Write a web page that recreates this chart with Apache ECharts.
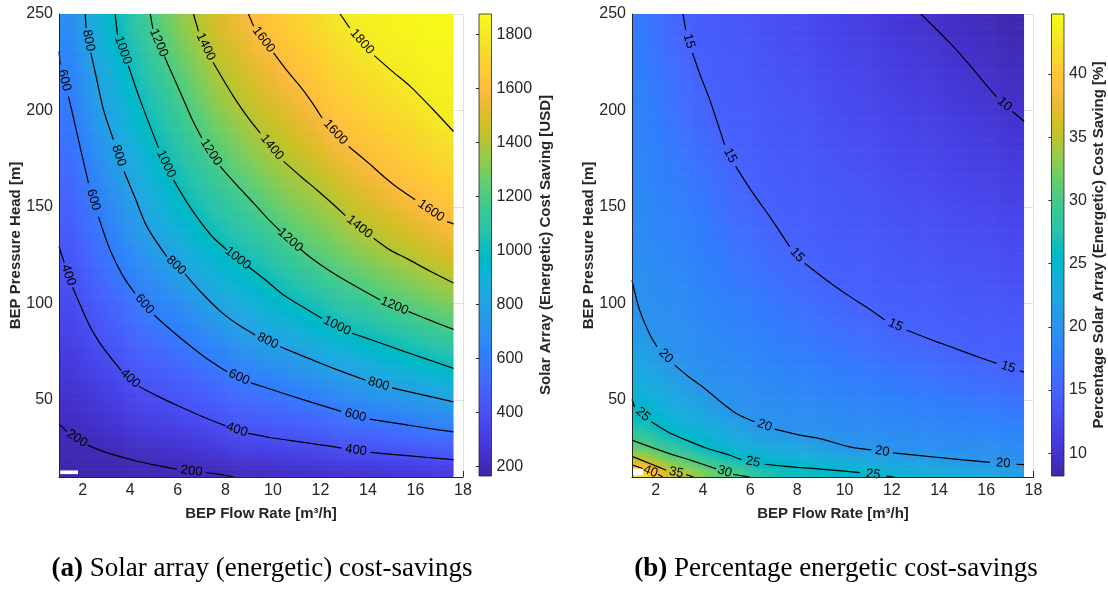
<!DOCTYPE html>
<html>
<head>
<meta charset="utf-8">
<title>Solar array cost savings</title>
<script src="https://cdn.jsdelivr.net/npm/echarts@6.0.0/dist/echarts.min.js"></script>
<style>
  html, body { margin: 0; padding: 0; background: #ffffff; }
  #chart { width: 1108px; height: 590px; }
</style>
</head>
<body>
<div id="chart"></div>
<script>
// ---- gridded results: flow-rate bins (m3/h) and pressure-head bins (m) ----
const flowEdges = [1, 2, 3, 4, 5, 6, 7, 8, 9, 10, 11, 12, 13, 14, 15, 16, 17, 17.6];
const headEdges = [10, 15, 20, 30, 40, 50, 60, 70, 80, 90, 100, 110, 120, 130, 140, 150,
                   160, 170, 180, 190, 200, 210, 220, 230, 240, 250];

// axis limits and tick labels
const flowLimits = [1, 18];
const headLimits = [10, 250];
const flowTicks = [2, 4, 6, 8, 10, 12, 14, 16, 18];
const headTicks = [50, 100, 150, 200, 250];
const savingTicks = [200, 400, 600, 800, 1000, 1200, 1400, 1600, 1800];
const percentTicks = [10, 15, 20, 25, 30, 35, 40];

// colour scale limits
const savingRange = [165.6, 1875];
const percentRange = [8.2, 44.75];

// Solar array (energetic) cost saving [USD]; one column per flow bin, head bins bottom -> top
const costSaving = [
  [175, 181, 191, 208, 233, 258, 284, 309, 334, 359, 385, 409, 430, 452, 474, 496, 517, 539, 561, 583, 604, 625, 645, 666, 687],
  [182, 189, 200, 233, 267, 301, 335, 369, 403, 433, 464, 494, 524, 555, 585, 615, 644, 673, 702, 731, 760, 789, 817, 843, 869],
  [187, 194, 217, 260, 303, 346, 389, 429, 468, 507, 545, 584, 621, 656, 691, 726, 761, 796, 826, 855, 884, 913, 942, 971, 1000],
  [192, 200, 237, 288, 339, 390, 437, 484, 530, 577, 622, 665, 709, 752, 796, 832, 867, 903, 938, 973, 1008, 1040, 1072, 1104, 1137],
  [196, 212, 255, 313, 371, 426, 478, 529, 581, 635, 690, 745, 800, 843, 885, 928, 970, 1011, 1047, 1084, 1120, 1156, 1193, 1225, 1257],
  [199, 226, 275, 341, 406, 464, 522, 581, 639, 696, 754, 811, 867, 922, 978, 1024, 1065, 1105, 1145, 1186, 1223, 1257, 1292, 1327, 1362],
  [207, 243, 298, 371, 439, 503, 568, 635, 705, 775, 837, 893, 949, 1005, 1053, 1101, 1149, 1198, 1239, 1280, 1320, 1361, 1401, 1435, 1469],
  [221, 262, 324, 406, 478, 550, 622, 695, 767, 833, 892, 951, 1009, 1062, 1115, 1168, 1218, 1264, 1310, 1356, 1402, 1437, 1472, 1507, 1544],
  [231, 275, 340, 425, 503, 581, 662, 744, 819, 881, 944, 1006, 1065, 1125, 1184, 1237, 1287, 1338, 1388, 1430, 1470, 1509, 1549, 1588, 1618],
  [239, 286, 357, 445, 528, 612, 697, 781, 858, 933, 1006, 1071, 1135, 1200, 1251, 1303, 1354, 1405, 1446, 1488, 1529, 1571, 1609, 1637, 1666],
  [249, 299, 374, 466, 555, 647, 740, 828, 907, 987, 1061, 1136, 1206, 1256, 1306, 1355, 1405, 1452, 1500, 1548, 1595, 1626, 1656, 1685, 1715],
  [258, 311, 390, 493, 590, 690, 785, 876, 964, 1044, 1119, 1193, 1249, 1304, 1358, 1413, 1468, 1522, 1577, 1617, 1647, 1677, 1707, 1737, 1767],
  [267, 325, 412, 525, 633, 731, 827, 918, 1008, 1089, 1169, 1240, 1305, 1371, 1428, 1479, 1530, 1582, 1621, 1654, 1688, 1721, 1754, 1787, 1815],
  [277, 338, 428, 547, 660, 768, 865, 958, 1048, 1137, 1220, 1288, 1356, 1419, 1475, 1530, 1586, 1625, 1660, 1694, 1728, 1762, 1797, 1815, 1828],
  [286, 351, 445, 568, 684, 798, 898, 998, 1092, 1185, 1259, 1330, 1401, 1462, 1522, 1584, 1625, 1660, 1694, 1729, 1764, 1798, 1812, 1830, 1845],
  [295, 363, 462, 592, 711, 827, 935, 1038, 1133, 1223, 1299, 1376, 1444, 1508, 1572, 1621, 1658, 1695, 1733, 1770, 1806, 1822, 1836, 1850, 1862],
  [303, 374, 478, 613, 740, 860, 972, 1073, 1171, 1257, 1339, 1417, 1483, 1549, 1609, 1649, 1689, 1729, 1769, 1803, 1816, 1829, 1842, 1855, 1868]
];

// Percentage solar array (energetic) cost saving [%]; same layout
const percentSaving = [
  [42.2, 36.1, 31.0, 27.2, 24.7, 23.6, 22.6, 21.5, 20.5, 19.9, 19.7, 19.6, 19.4, 19.2, 19.0, 18.9, 18.7, 18.5, 18.3, 18.2, 18.0, 17.8, 17.7, 17.5, 17.3],
  [35.8, 32.7, 28.9, 24.8, 23.5, 22.3, 21.0, 19.95, 19.7, 19.5, 19.2, 19.0, 18.8, 18.5, 18.3, 18.0, 17.8, 17.6, 17.3, 17.1, 16.8, 16.6, 16.4, 16.1, 15.9],
  [33.7, 30.7, 26.7, 24.0, 22.5, 21.0, 19.9, 19.6, 19.3, 19.0, 18.7, 18.4, 18.1, 17.9, 17.6, 17.3, 17.0, 16.7, 16.4, 16.1, 15.8, 15.5, 15.2, 14.9, 14.7],
  [31.3, 28.5, 24.8, 23.0, 21.2, 19.9, 19.5, 19.2, 18.9, 18.5, 18.2, 17.8, 17.5, 17.2, 16.8, 16.5, 16.2, 15.8, 15.5, 15.1, 14.9, 14.8, 14.7, 14.5, 14.4],
  [29.5, 26.6, 23.9, 21.7, 19.9, 19.5, 19.1, 18.7, 18.3, 17.9, 17.5, 17.1, 16.7, 16.3, 15.9, 15.6, 15.2, 14.9, 14.8, 14.6, 14.5, 14.3, 14.2, 14.0, 13.9],
  [27.3, 24.85, 23.0, 20.5, 19.65, 19.2, 18.8, 18.3, 17.9, 17.5, 17.0, 16.6, 16.2, 15.7, 15.3, 14.94, 14.8, 14.6, 14.4, 14.3, 14.1, 13.9, 13.7, 13.6, 13.4],
  [26.3, 24.5, 22.4, 19.9, 19.4, 18.9, 18.4, 17.9, 17.4, 17.0, 16.5, 16.0, 15.5, 15.0, 14.8, 14.6, 14.4, 14.2, 14.0, 13.9, 13.7, 13.5, 13.3, 13.1, 12.9],
  [25.8, 24.1, 21.8, 19.8, 19.2, 18.6, 18.1, 17.5, 16.9, 16.4, 15.8, 15.2, 14.9, 14.7, 14.5, 14.3, 14.1, 13.9, 13.7, 13.5, 13.3, 13.1, 12.9, 12.7, 12.5],
  [25.4, 23.6, 21.0, 19.6, 19.0, 18.4, 17.7, 17.1, 16.5, 15.9, 15.3, 14.9, 14.7, 14.4, 14.2, 14.0, 13.8, 13.6, 13.3, 13.1, 12.9, 12.7, 12.4, 12.2, 12.0],
  [25.1, 23.1, 20.0, 19.35, 18.7, 18.0, 17.4, 16.7, 16.1, 15.4, 14.9, 14.7, 14.4, 14.2, 13.9, 13.7, 13.5, 13.2, 13.0, 12.7, 12.5, 12.2, 12.0, 11.7, 11.5],
  [24.4, 22.4, 19.9, 19.2, 18.5, 17.75, 17.05, 16.3, 15.6, 14.97, 14.7, 14.4, 14.2, 13.9, 13.6, 13.4, 13.1, 12.8, 12.6, 12.3, 12.1, 11.8, 11.5, 11.3, 11.0],
  [24.0, 21.9, 19.8, 19.0, 18.2, 17.45, 16.7, 15.9, 15.1, 14.8, 14.5, 14.2, 13.9, 13.6, 13.3, 13.1, 12.8, 12.5, 12.2, 11.9, 11.6, 11.3, 11.1, 10.8, 10.5],
  [23.5, 21.5, 19.65, 18.8, 18.0, 17.2, 16.4, 15.6, 14.9, 14.6, 14.3, 14.0, 13.7, 13.4, 13.1, 12.8, 12.5, 12.2, 11.9, 11.6, 11.3, 11.0, 10.7, 10.4, 10.1],
  [23.0, 21.0, 19.5, 18.7, 17.8, 16.9, 16.1, 15.2, 14.76, 14.4, 14.1, 13.8, 13.5, 13.2, 12.9, 12.5, 12.2, 11.9, 11.6, 11.3, 10.9, 10.6, 10.3, 10.0, 9.65],
  [22.4, 20.5, 19.4, 18.5, 17.6, 16.6, 15.7, 14.9, 14.6, 14.25, 13.9, 13.6, 13.3, 12.9, 12.6, 12.2, 11.9, 11.5, 11.2, 10.9, 10.5, 10.2, 9.9, 9.6, 9.25],
  [21.9, 20.1, 19.3, 18.3, 17.3, 16.3, 15.35, 14.77, 14.4, 14.05, 13.7, 13.3, 12.95, 12.6, 12.2, 11.85, 11.5, 11.1, 10.8, 10.4, 10.05, 9.75, 9.45, 9.15, 8.85],
  [21.6, 19.7, 19.1, 18.1, 17.1, 16.1, 15.05, 14.64, 14.3, 13.9, 13.5, 13.1, 12.75, 12.4, 12.0, 11.6, 11.2, 10.85, 10.5, 10.1, 9.8, 9.5, 9.15, 8.85, 8.5]
];

// small areas without results near the lowest flow / head corner: [q0, q1, h0, h1]
const noDataSaving = [[1.05, 1.8, 11.5, 13.4]];
const noDataPercent = [[1, 1.46, 10.9, 14.3]];

// iso-lines: each level is split into pieces; a label sits in every gap between pieces
const savingContours = [
  { level: 200, segments: [
    [[1, 37.7], [1.32, 33.5]],
    [[2.2, 26.5], [3, 22.6], [4.13, 18.7], [5, 16.3], [5.96, 14.0]],
    [[7.19, 12.2], [7.8, 11.2], [8.35, 10]]
  ]},
  { level: 400, segments: [
    [[1, 129.5], [1.22, 121.1]],
    [[1.57, 108.3], [1.9, 99], [2.31, 87.9], [2.7, 79.8], [3.15, 72.3], [3.62, 65.2]],
    [[4.37, 56.9], [5.1, 52.2], [5.96, 47.2], [7, 41.5], [8.01, 36.5]],
    [[8.96, 32.6], [10, 30.2], [11.15, 28.2], [12, 26.7], [12.9, 25]],
    [[14.1, 22.8], [15.5, 21.2], [16.5, 20.1], [17.6, 19]]
  ]},
  { level: 600, segments: [
    [[1, 230.6], [1.05, 223.8]],
    [[1.4, 207.3], [1.82, 184.8], [2.24, 162.3]],
    [[2.66, 145], [3.15, 127.7], [3.7, 114], [4.2, 105.2]],
    [[5.0, 94], [5.7, 86.3], [6.38, 79.3], [7.2, 71.5], [8.07, 64.5]],
    [[9.08, 58.8], [10.2, 54.3], [11.3, 50.0], [12.87, 44.0]],
    [[14.07, 40.0], [15.5, 37.3], [16.5, 35.3], [17.6, 33.4]]
  ]},
  { level: 800, segments: [
    [[2.1, 250], [2.14, 242.8]],
    [[2.34, 229.8], [2.6, 215.4], [2.87, 200.4], [3.29, 184.8]],
    [[3.74, 168.4], [4.2, 154.7], [4.7, 139.8], [5.54, 124.2]],
    [[6.31, 115.2], [7.0, 105.5], [7.78, 96], [8.5, 89.3], [9.26, 83.6]],
    [[10.31, 77.5], [11.5, 71.5], [12.55, 66.3], [13.89, 60.2]],
    [[15.01, 56.2], [16.3, 52.6], [17.6, 48.9]]
  ]},
  { level: 1000, segments: [
    [[3.36, 250], [3.46, 239.3]],
    [[3.92, 223.2], [4.41, 205.6], [5.19, 180.5]],
    [[5.82, 164], [6.4, 152], [7.0, 141.5], [7.5, 134], [8.07, 127.7]],
    [[8.97, 119], [9.7, 112], [10.45, 104.3], [11.2, 98.6], [12.07, 92.2]],
    [[13.33, 84.5], [14.4, 80], [15.36, 75.8], [16.5, 71], [17.6, 66.3]]
  ]},
  { level: 1200, segments: [
    [[4.84, 250], [4.95, 242.3]],
    [[5.44, 227.8], [5.85, 216.5], [6.24, 205.6], [6.6, 195.5], [7.01, 185.7]],
    [[7.78, 171], [8.5, 161], [9.19, 152], [9.7, 145], [10.32, 137.4]],
    [[11.14, 128.3], [11.6, 123.6], [12.3, 117.6], [13.26, 110.4], [14.52, 101.7]],
    [[15.71, 95.7], [16.6, 91.3], [17.6, 86.5]]
  ]},
  { level: 1400, segments: [
    [[6.66, 250], [6.87, 241]],
    [[7.48, 225], [8.34, 207.3], [9.0, 195.5], [9.47, 188.3]],
    [[10.45, 173.6], [11.2, 165.5], [11.85, 158.8], [12.5, 151.8], [13.05, 145.5]],
    [[14.24, 133.8], [14.94, 127.6], [15.64, 123.2], [16.6, 116.8], [17.6, 110.6]]
  ]},
  { level: 1600, segments: [
    [[8.97, 250], [9.19, 243.6]],
    [[10.03, 229.8], [10.6, 220.5], [11.15, 212.5], [11.6, 205], [12.07, 196.1]],
    [[13.19, 181.3], [14.0, 173], [14.66, 165.8], [15.3, 159.5], [15.99, 153.7]],
    [[17.33, 142.4], [17.6, 141.2]]
  ]},
  { level: 1800, segments: [
    [[12.83, 250], [13.23, 242.8]],
    [[14.27, 228.4], [15.0, 220.5], [15.78, 212.5], [16.7, 201], [17.6, 189.1]]
  ]}
];

const percentContours = [
  { level: 10, segments: [
    [[13.23, 250], [14.46, 235], [15.3, 223.5], [15.87, 215.1], [16.44, 207]],
    [[17.11, 199.5], [17.6, 194.4]]
  ]},
  { level: 15, segments: [
    [[3.16, 250], [3.27, 241.9]],
    [[3.56, 229.8], [3.9, 218], [4.29, 205.6], [4.92, 182.2]],
    [[5.39, 171], [6.1, 157.5], [6.83, 145], [7.68, 129.4]],
    [[8.31, 120.8], [9.3, 111.5], [10.23, 103.5], [11.0, 97.5], [11.7, 91.4]],
    [[12.62, 86.2], [13.6, 81.5], [14.6, 77], [15.6, 72.5], [16.44, 68.9]],
    [[17.42, 65], [17.6, 64.4]]
  ]},
  { level: 20, segments: [
    [[1, 112.1], [1.32, 96.6], [1.75, 84], [2.06, 77.5]],
    [[2.81, 68], [3.4, 62], [4, 56.7], [4.7, 49.5], [5.42, 42.9], [6.19, 38.6]],
    [[7.04, 34.8], [8, 32], [8.95, 29.9], [10.22, 25.6], [11.14, 24.1]],
    [[12.05, 22.5], [13, 21.3], [14, 20.1], [15, 18.9], [16.15, 17.6]],
    [[17.28, 16.6], [17.6, 16.4]]
  ]},
  { level: 25, segments: [
    [[1, 50.2], [1.11, 46.3]],
    [[1.82, 38.6], [2.5, 33.5], [3.3, 29.1], [4.2, 24.8], [5.14, 21.3], [5.63, 19.0]],
    [[6.62, 16.6], [8, 15], [9.5, 13.6], [10.64, 12.3]],
    [[11.78, 10.5], [12.1, 10]]
  ]},
  { level: 30, segments: [
    [[1, 29.1], [1.8, 25.5], [2.59, 22.1], [3.5, 18.6], [4.57, 14.2]],
    [[5.28, 11.4], [5.98, 10]]
  ]},
  { level: 35, segments: [
    [[1, 20.7], [1.75, 17], [2.45, 13.5]],
    [[3.3, 11.2], [3.6, 10]]
  ]},
  { level: 40, segments: [
    [[1, 16.3], [1.46, 14.4]],
    [[2.1, 11.4], [2.3, 10]]
  ]}
];

// ---- styling ----
const FONT = '"Liberation Sans", Arial, Helvetica, sans-serif';
const SERIF = '"Liberation Serif", "Times New Roman", Times, serif';
const INK = '#262626';
const GRIDLINE = '#dfdfdf';

// parula colour map (64 steps)
const PARULA_RGB = [
  [0.2422,0.1504,0.6603],[0.2504,0.1650,0.7076],[0.2578,0.1818,0.7511],[0.2647,0.1978,0.7952],
  [0.2706,0.2147,0.8364],[0.2751,0.2342,0.8710],[0.2783,0.2559,0.8991],[0.2803,0.2782,0.9221],
  [0.2813,0.3006,0.9414],[0.2810,0.3228,0.9579],[0.2795,0.3447,0.9717],[0.2760,0.3667,0.9829],
  [0.2699,0.3892,0.9906],[0.2602,0.4123,0.9952],[0.2440,0.4358,0.9988],[0.2206,0.4603,0.9973],
  [0.1963,0.4847,0.9892],[0.1834,0.5074,0.9798],[0.1786,0.5289,0.9682],[0.1764,0.5499,0.9520],
  [0.1687,0.5703,0.9359],[0.1540,0.5902,0.9218],[0.1460,0.6091,0.9079],[0.1380,0.6276,0.8973],
  [0.1248,0.6459,0.8883],[0.1113,0.6635,0.8763],[0.0952,0.6798,0.8598],[0.0689,0.6948,0.8394],
  [0.0297,0.7082,0.8163],[0.0036,0.7203,0.7917],[0.0067,0.7312,0.7660],[0.0433,0.7411,0.7394],
  [0.0964,0.7500,0.7120],[0.1408,0.7584,0.6842],[0.1717,0.7670,0.6554],[0.1938,0.7758,0.6251],
  [0.2161,0.7843,0.5923],[0.2470,0.7918,0.5567],[0.2906,0.7973,0.5188],[0.3406,0.8008,0.4789],
  [0.3909,0.8029,0.4354],[0.4456,0.8024,0.3909],[0.5044,0.7993,0.3480],[0.5616,0.7942,0.3045],
  [0.6174,0.7876,0.2612],[0.6720,0.7793,0.2227],[0.7242,0.7698,0.1910],[0.7738,0.7598,0.1646],
  [0.8203,0.7498,0.1535],[0.8634,0.7406,0.1596],[0.9035,0.7330,0.1774],[0.9393,0.7288,0.2100],
  [0.9728,0.7298,0.2394],[0.9956,0.7434,0.2371],[0.9970,0.7659,0.2199],[0.9952,0.7893,0.2028],
  [0.9892,0.8136,0.1885],[0.9786,0.8386,0.1766],[0.9676,0.8639,0.1643],[0.9610,0.8890,0.1537],
  [0.9597,0.9135,0.1423],[0.9628,0.9373,0.1265],[0.9691,0.9606,0.1064],[0.9769,0.9839,0.0805]
];
const PARULA = PARULA_RGB.map(c => 'rgb(' + c.map(v => Math.round(v * 255)).join(',') + ')');

function parulaColor(v, range) {
  let t = (v - range[0]) / (range[1] - range[0]);
  t = Math.min(1, Math.max(0, t));
  const n = PARULA_RGB.length;
  const p = t * (n - 1);
  const k = Math.min(n - 2, Math.floor(p));
  const f = p - k;
  const a = PARULA_RGB[k], b = PARULA_RGB[k + 1];
  return 'rgb(' + [0, 1, 2].map(m => Math.round(255 * (a[m] + (b[m] - a[m]) * f))).join(',') + ')';
}

// ---- builders ----
const flowMid = flowEdges.slice(0, -1).map((e, i) => (e + flowEdges[i + 1]) / 2);
const headMid = headEdges.slice(0, -1).map((e, j) => (e + headEdges[j + 1]) / 2);

function cellData(columns) {
  const out = [];
  columns.forEach((col, i) => col.forEach((v, j) => out.push([flowMid[i], headMid[j], v, i, j])));
  return out;
}

function locate(arr, v) {
  if (v <= arr[0]) return [0, 0];
  if (v >= arr[arr.length - 1]) return [arr.length - 2, 1];
  let k = 0;
  while (arr[k + 1] < v) k++;
  return [k, (v - arr[k]) / (arr[k + 1] - arr[k])];
}

// interpolated shading between the bin values (like shading interp)
function makeCellRenderer(columns, range) {
  function shade(x, y) {
    const [i, tx] = locate(flowMid, x);
    const [j, ty] = locate(headMid, y);
    const lo = columns[i][j] * (1 - tx) + columns[i + 1][j] * tx;
    const hi = columns[i][j + 1] * (1 - tx) + columns[i + 1][j + 1] * tx;
    return lo * (1 - ty) + hi * ty;
  }
  return function (params, api) {
    const i = api.value(3), j = api.value(4);
    const x0 = flowEdges[i], x1 = flowEdges[i + 1], y0 = headEdges[j], y1 = headEdges[j + 1];
    const tl = api.coord([x0, y1]);
    const br = api.coord([x1, y0]);
    const w = br[0] - tl[0], h = br[1] - tl[1];
    const nx = Math.max(1, Math.ceil(w / 3)), ny = Math.max(1, Math.ceil(h / 3));
    const lastCol = i === flowEdges.length - 2, topRow = j === headEdges.length - 2;
    const children = [];
    for (let a = 0; a < nx; a++) {
      for (let b = 0; b < ny; b++) {
        const x = x0 + (x1 - x0) * (a + 0.5) / nx;
        const y = y1 - (y1 - y0) * (b + 0.5) / ny;
        // slight overlap hides seams; not past the outer edge of the field
        const growX = (lastCol && a === nx - 1) ? 0 : 0.6;
        const growY = (b === 0 && topRow) ? 0 : 0.6;
        children.push({
          type: 'rect',
          shape: { x: tl[0] + w * a / nx, y: tl[1] + h * b / ny - growY,
                   width: w / nx + growX, height: h / ny + growY },
          style: { fill: parulaColor(shade(x, y), range) }
        });
      }
    }
    return { type: 'group', children };
  };
}

function heatSeries(columns, range, axisIndex) {
  return {
    type: 'custom', xAxisIndex: axisIndex, yAxisIndex: axisIndex, z: 1, silent: true,
    encode: { x: 0, y: 1 }, data: cellData(columns), renderItem: makeCellRenderer(columns, range)
  };
}

function noDataSeries(areas, axisIndex) {
  return {
    type: 'custom', xAxisIndex: axisIndex, yAxisIndex: axisIndex, z: 2, silent: true,
    encode: { x: 0, y: 2 }, data: areas,
    renderItem: function (params, api) {
      const tl = api.coord([api.value(0), api.value(3)]);
      const br = api.coord([api.value(1), api.value(2)]);
      return { type: 'rect', shape: { x: tl[0], y: tl[1], width: br[0] - tl[0], height: br[1] - tl[1] },
               style: { fill: '#ffffff' } };
    }
  };
}

function lineSeries(contours, axisIndex) {
  const list = [];
  contours.forEach(c => c.segments.forEach(seg => list.push({
    type: 'line', xAxisIndex: axisIndex, yAxisIndex: axisIndex, data: seg,
    symbol: 'none', showSymbol: false, smooth: 0.3, z: 3, silent: true,
    lineStyle: { color: '#000000', width: 1.2 }
  })));
  return list;
}

function labelSeries(contours, axisIndex) {
  const data = [];
  contours.forEach(c => {
    for (let k = 0; k < c.segments.length - 1; k++) {
      const a = c.segments[k][c.segments[k].length - 1];
      const b = c.segments[k + 1][0];
      data.push([(a[0] + b[0]) / 2, (a[1] + b[1]) / 2, c.level, a[0], a[1], b[0], b[1]]);
    }
  });
  return {
    type: 'custom', xAxisIndex: axisIndex, yAxisIndex: axisIndex, z: 4, silent: true, clip: false,
    encode: { x: 0, y: 1 }, data: data,
    renderItem: function (params, api) {
      const p = api.coord([api.value(0), api.value(1)]);
      const a = api.coord([api.value(3), api.value(4)]);
      const b = api.coord([api.value(5), api.value(6)]);
      let ang = Math.atan2(b[1] - a[1], b[0] - a[0]);
      if (ang > Math.PI / 2) ang -= Math.PI;
      if (ang < -Math.PI / 2) ang += Math.PI;
      return {
        type: 'text', x: p[0], y: p[1], rotation: -ang,
        style: { text: String(api.value(2)), fill: '#000000', font: '13px ' + FONT,
                 align: 'center', verticalAlign: 'middle' }
      };
    }
  };
}

function colorbarSeries(range, axisIndex) {
  const stops = PARULA.map((c, k) => ({ offset: k / (PARULA.length - 1), color: c }));
  return {
    type: 'custom', xAxisIndex: axisIndex, yAxisIndex: axisIndex, z: 2, silent: true,
    encode: { x: 0, y: 1 }, data: [[0, range[0], 1, range[1]]],
    renderItem: function (params, api) {
      const bl = api.coord([api.value(0), api.value(1)]);
      const tr = api.coord([api.value(2), api.value(3)]);
      return {
        type: 'rect',
        shape: { x: bl[0], y: tr[1], width: tr[0] - bl[0], height: bl[1] - tr[1] },
        style: { fill: new echarts.graphic.LinearGradient(0, 1, 0, 0, stops), stroke: INK, lineWidth: 0.8 }
      };
    }
  };
}

const tickFont = { color: INK, fontSize: 16, fontFamily: FONT, formatter: v => String(v) };

// below-series axes: light grid lines and inward ticks; above-series axes: axis lines and labels
function plotX(gridIndex) {
  return [
    { type: 'value', gridIndex, min: flowLimits[0], max: flowLimits[1], position: 'bottom', z: 0,
      axisLine: { show: false }, axisLabel: { show: false },
      axisTick: { show: true, inside: true, length: 6, customValues: [flowTicks[flowTicks.length - 1]], lineStyle: { color: INK } },
      splitLine: { show: true, lineStyle: { color: GRIDLINE, width: 1 } } },
    { type: 'value', gridIndex, min: flowLimits[0], max: flowLimits[1], position: 'bottom', z: 6,
      axisLine: { show: true, onZero: false, lineStyle: { color: INK, width: 1 } },
      axisTick: { show: false }, splitLine: { show: false },
      axisLabel: Object.assign({ customValues: flowTicks, margin: 6 }, tickFont) }
  ];
}
function plotY(gridIndex) {
  return [
    { type: 'value', gridIndex, min: headLimits[0], max: headLimits[1], position: 'left', z: 0,
      axisLine: { show: false }, axisLabel: { show: false },
      axisTick: { show: true, inside: true, length: 6, customValues: headTicks, lineStyle: { color: INK } },
      splitLine: { show: true, lineStyle: { color: GRIDLINE, width: 1 } } },
    { type: 'value', gridIndex, min: headLimits[0], max: headLimits[1], position: 'left', z: 6,
      axisLine: { show: true, onZero: false, lineStyle: { color: INK, width: 1 } },
      axisTick: { show: false }, splitLine: { show: false },
      axisLabel: Object.assign({ customValues: headTicks, margin: 6 }, tickFont) }
  ];
}
function barX(gridIndex) {
  return { type: 'value', gridIndex, min: 0, max: 1, show: false };
}
function barY(gridIndex, range, ticks) {
  return { type: 'value', gridIndex, min: range[0], max: range[1], position: 'right', z: 6,
    axisLine: { show: false }, splitLine: { show: false },
    axisTick: { show: true, inside: true, length: 3, customValues: ticks, lineStyle: { color: INK } },
    axisLabel: Object.assign({ customValues: ticks, margin: 5 }, tickFont) };
}

function titleText(x, y, text, rotated) {
  return { type: 'text', x, y, z: 10, rotation: rotated ? Math.PI / 2 : 0, silent: true,
    style: { text, font: 'bold 15px ' + FONT, fill: INK, align: 'center', verticalAlign: 'middle' } };
}
function captionText(x, y, tag, text) {
  return { type: 'text', x, y, z: 10, silent: true,
    style: { text: '{b|' + tag + '}{r| ' + text + '}', align: 'center', verticalAlign: 'middle',
      rich: { b: { fontFamily: SERIF, fontSize: 27, fontWeight: 'bold', fill: '#000' },
              r: { fontFamily: SERIF, fontSize: 27, fill: '#000' } } } };
}

const chart = echarts.init(document.getElementById('chart'), null, { renderer: 'canvas' });

const gridBase = { containLabel: false, outerBoundsMode: 'none', show: false };
chart.setOption({
  animation: false,
  backgroundColor: '#ffffff',
  grid: [
    Object.assign({ left: 59, top: 14, width: 404, height: 463 }, gridBase),
    Object.assign({ left: 632, top: 14, width: 401.5, height: 463 }, gridBase),
    Object.assign({ left: 479, top: 14, width: 12.5, height: 462 }, gridBase),
    Object.assign({ left: 1051.5, top: 14, width: 12.5, height: 462 }, gridBase)
  ],
  // x/y axis indices: 0,1 plot (a); 2,3 plot (b); 4 colour bar (a); 5 colour bar (b)
  xAxis: [].concat(plotX(0), plotX(1), [barX(2), barX(3)]),
  yAxis: [].concat(plotY(0), plotY(1), [barY(2, savingRange, savingTicks), barY(3, percentRange, percentTicks)]),
  series: [
    heatSeries(costSaving, savingRange, 1),
    heatSeries(percentSaving, percentRange, 3),
    noDataSeries(noDataSaving, 1),
    noDataSeries(noDataPercent, 3)
  ].concat(
    lineSeries(savingContours, 1),
    lineSeries(percentContours, 3),
    [labelSeries(savingContours, 1), labelSeries(percentContours, 3),
     colorbarSeries(savingRange, 4), colorbarSeries(percentRange, 5)]
  ),
  graphic: [
    titleText(16, 245.5, 'BEP Pressure Head [m]', true),
    titleText(261, 514, 'BEP Flow Rate [m\u00B3/h]', false),
    titleText(546, 245, 'Solar Array (Energetic) Cost Saving [USD]', true),
    titleText(589, 245.5, 'BEP Pressure Head [m]', true),
    titleText(833, 514, 'BEP Flow Rate [m\u00B3/h]', false),
    titleText(1099, 245, 'Percentage Solar Array (Energetic) Cost Saving [%]', true),
    captionText(262, 569, '(a)', 'Solar array (energetic) cost-savings'),
    captionText(836, 569, '(b)', 'Percentage energetic cost-savings')
  ]
});
</script>
</body>
</html>
